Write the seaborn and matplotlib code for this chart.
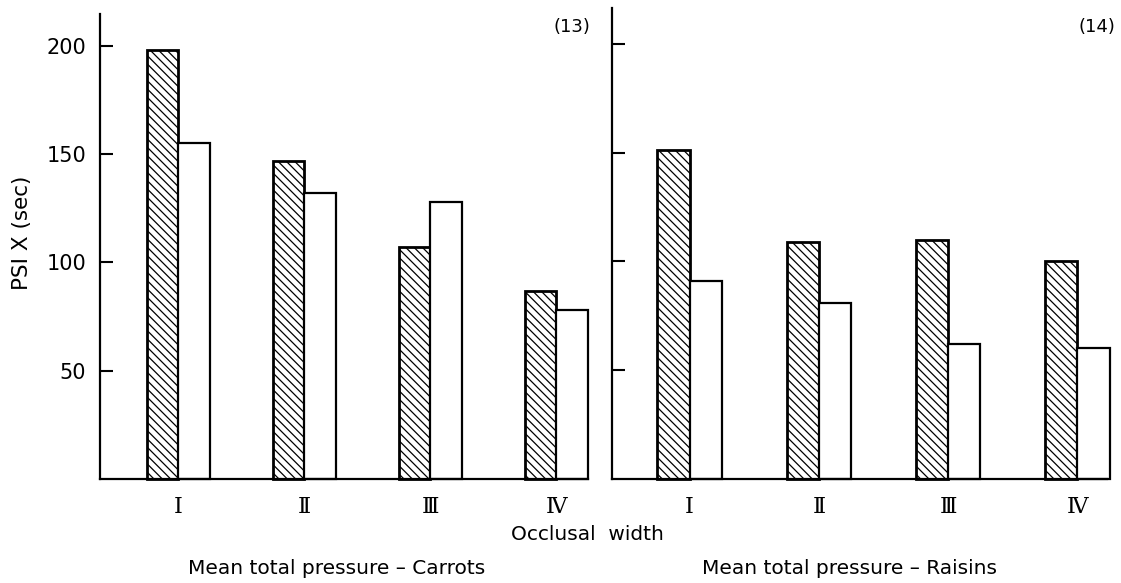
import matplotlib
matplotlib.use('Agg')
import matplotlib.pyplot as plt
import seaborn as sns
import pandas as pd

# values (PSI X, sec)
groups = ['I', 'II', 'III', 'IV']
tick_labels = ['Ⅰ', 'Ⅱ', 'Ⅲ', 'Ⅳ']
series = ['hatched', 'open']
carrots_hatched = [198, 147, 107, 87]
carrots_open = [155, 132, 128, 78]
raisins_hatched = [151, 109, 110, 100]
raisins_open = [91, 81, 62, 60]
yticks = [50, 100, 150, 200]


def make_df(hatched, opened):
    return pd.DataFrame({
        'group': groups * 2,
        'series': [series[0]] * 4 + [series[1]] * 4,
        'value': list(hatched) + list(opened),
    })


sns.set_style('ticks')
plt.rcParams['font.family'] = ['DejaVu Sans']
plt.rcParams['hatch.linewidth'] = 0.9
plt.rcParams['hatch.color'] = 'black'
for k in ['text.color', 'axes.labelcolor', 'xtick.color', 'ytick.color', 'axes.edgecolor']:
    plt.rcParams[k] = 'black'

fig = plt.figure(figsize=(11.21, 5.83), dpi=100)
ax1 = fig.add_axes([0.0892, 0.1784, 0.4353, 0.7976])
ax2 = fig.add_axes([0.546, 0.1784, 0.4416, 0.8079])

panels = [
    (ax1, make_df(carrots_hatched, carrots_open), 214.7, (-0.62, 3.25), True),
    (ax2, make_df(raisins_hatched, raisins_open), 216.4, (-0.6, 3.23), False),
]

for ax, df, ytop, xl, show_labels in panels:
    sns.barplot(data=df, x='group', y='value', hue='series', order=groups,
                hue_order=series, palette={'hatched': 'white', 'open': 'white'},
                edgecolor='black', linewidth=1.6, width=0.5, gap=0,
                legend=False, ax=ax)
    for bar in ax.containers[0]:
        bar.set_hatch('\\\\\\\\')
        bar.set_linewidth(2.0)
    for bar in ax.patches:
        bar.set_clip_on(False)
    ax.set_ylim(0, ytop)
    ax.set_xlim(*xl)
    ax.set_yticks(yticks)
    ax.set_xticks(range(4))
    ax.set_xticklabels(tick_labels, fontsize=16, family=['DejaVu Serif', 'DejaVu Sans'])
    ax.tick_params(axis='x', length=0, pad=12)
    ax.tick_params(axis='y', direction='in', length=9, width=1.5, pad=10,
                   labelsize=15, labelleft=show_labels)
    ax.set_xlabel('')
    ax.set_ylabel('')
    sns.despine(ax=ax)
    for s in ['left', 'bottom']:
        ax.spines[s].set_linewidth(1.6)

ax1.text(1.004, 0.972, '(13)', transform=ax1.transAxes, ha='right', va='center', fontsize=13)
ax2.text(1.016, 0.96, '(14)', transform=ax2.transAxes, ha='right', va='center', fontsize=13)

fig.text(22 / 1121, 1 - 233 / 583, 'PSI X (sec)', rotation=90, ha='center', va='center', fontsize=15.5)
fig.text(587 / 1121, 1 - 535 / 583, 'Occlusal  width', ha='center', va='center', fontsize=14.5)
fig.text(337 / 1121, 1 - 568 / 583, 'Mean total pressure – Carrots', ha='center', va='center', fontsize=14.5)
fig.text(850 / 1121, 1 - 568 / 583, 'Mean total pressure – Raisins', ha='center', va='center', fontsize=14.5)

fig.savefig('out.png', dpi=100)
